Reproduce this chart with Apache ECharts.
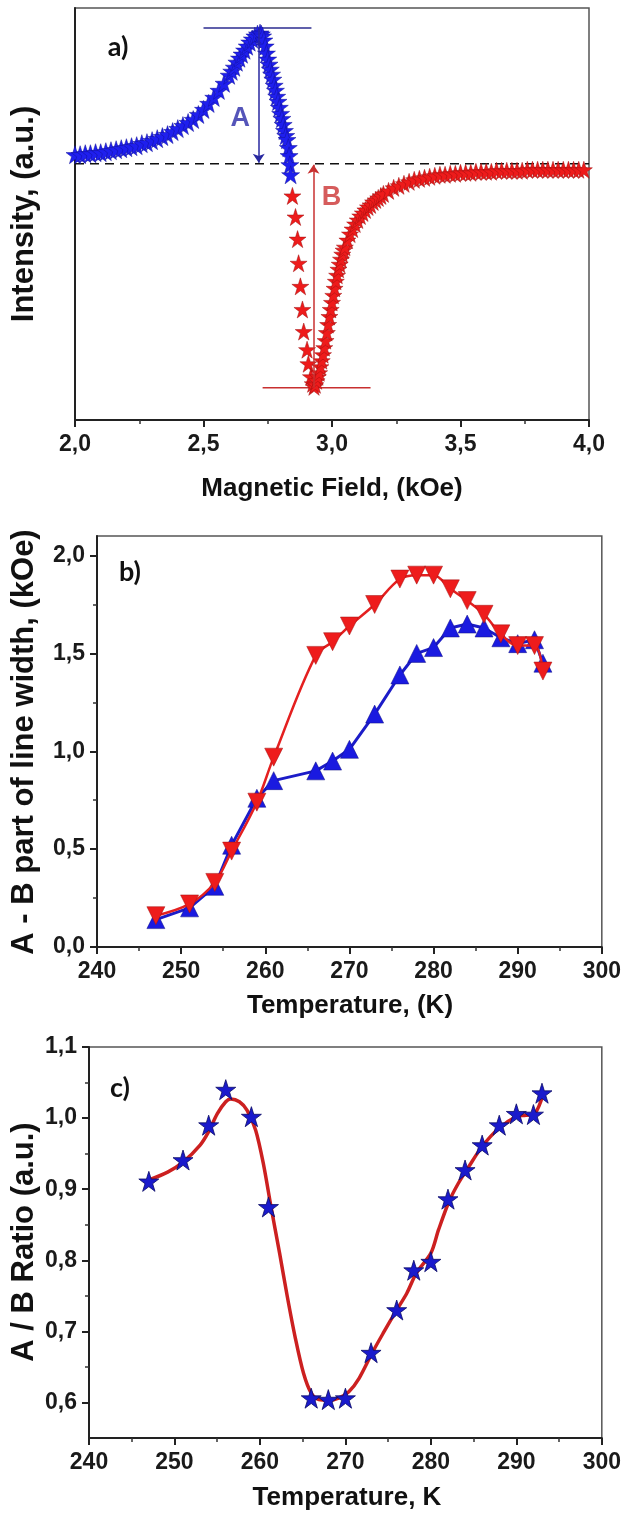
<!DOCTYPE html>
<html>
<head>
<meta charset="utf-8">
<script src="https://cdn.jsdelivr.net/npm/echarts@6/dist/echarts.min.js"></script>
<style>
  html, body { margin: 0; padding: 0; background: #fff; }
  #main { width: 624px; height: 1521px; }
</style>
</head>
<body>
<div id="main"></div>
<script>
// a) ESR line, blue part (A side)
var aBlueField = [2.00,2.02,2.04,2.06,2.08,2.10,2.12,2.14,2.16,2.18,2.20,2.22,2.24,2.26,2.28,2.30,2.32,2.34,2.36,2.38,2.40,2.42,2.44,2.46,2.48,2.50,2.52,2.54,2.56,2.58,2.60,
  2.61,2.62,2.63,2.64,2.65,2.66,2.67,2.68,2.69,2.70,2.71,2.72,
  2.725,2.73,2.735,2.74,2.745,2.75,2.755,2.76,2.765,2.77,2.775,2.78,2.785,2.79,2.795,2.80,2.805,2.81,2.815,2.82,2.825,2.83,
  2.833,2.836,2.839];
var aBlueInt = [9,9,10,10,11,11,12,13,14,15,16,17,18,20,21,23,25,27,29,32,35,38,41,44,49,54,60,66,73,80,88,
  92,96,101,105,109,113,117,121,124,127,129,130,
  129,127,123,117,110,104,99,94,89,84,78,73,67,62,56,50,45,39,33,28,24,16,
  8,-1,-11];
// a) red part (B side)
var aRedField = [2.846,2.858,2.866,2.870,2.877,2.885,2.890,2.903,2.908,2.918,2.925,
  2.930,2.935,2.940,2.945,2.950,2.955,2.960,2.965,2.970,2.975,2.980,2.985,2.990,2.995,3.000,3.005,3.010,3.015,3.020,3.025,3.030,3.035,3.040,3.045,3.050,
  3.06,3.07,3.08,3.09,3.10,3.11,3.12,3.13,3.14,3.15,3.16,3.17,3.18,3.19,3.20,
  3.22,3.24,3.26,3.28,3.30,3.32,3.34,3.36,3.38,3.40,3.42,3.44,3.46,3.48,3.50,3.52,3.54,3.56,3.58,3.60,
  3.62,3.64,3.66,3.68,3.70,3.72,3.74,3.76,3.78,3.80,3.82,3.84,3.86,3.88,3.90,3.92,3.94,3.96,3.98];
var aRedInt = [-32,-53,-75,-99,-122,-145,-167,-185,-199,-212,-219,
  -222,-220,-216,-212,-208,-202,-196,-190,-183,-176,-168,-160,-152,-145,-138,-131,-124,-117,-111,-105,-100,-95,-90,-86,-83,
  -76,-70,-65,-60,-56,-52,-49,-46,-43,-41,-38,-36,-34,-32,-30,
  -27,-24,-22,-20,-18,-16,-15,-14,-13,-12,-11,-11,-10,-10,-9,-9,-9,-8,-8,-8,
  -8,-7,-7,-7,-7,-7,-7,-6,-6,-6,-6,-6,-6,-6,-6,-6,-6,-6,-6];
var aPeak = 135, aMin = -223;

// b) and c) temperatures
var temps = [247,251,254,256,259,261,266,268,270,273,276,278,280,282,284,286,288,290,292,293];
var bPartA = [0.14,0.20,0.31,0.52,0.76,0.85,0.90,0.95,1.01,1.19,1.39,1.50,1.53,1.63,1.65,1.63,1.58,1.55,1.57,1.45];
var bPartB = [0.16,0.22,0.33,0.49,0.74,0.97,1.49,1.56,1.64,1.75,1.88,1.90,1.90,1.83,1.77,1.70,1.60,1.54,1.54,1.41];

// c) A/B ratio and the fitted curve
var cRatio = [0.911,0.941,0.990,1.040,1.002,0.875,0.606,0.604,0.606,0.670,0.730,0.786,0.798,0.886,0.927,0.962,0.990,1.006,1.005,1.035];
var cFitT = [247,249.2,251,253,254,255,256,256.6,257.6,258.5,259.5,260.4,261.3,262.3,263.2,264.1,265.1,266,266.9,268.1,
  269.2,270.4,271.6,273.1,274.4,276,277.2,278.3,280,280.9,282.1,283.2,284.4,286,287.9,290,291.1,292.2,293.1];
var cFitRatio = [0.913,0.924,0.938,0.962,0.981,1.006,1.023,1.027,1.023,1.011,0.983,0.936,0.875,0.810,0.749,0.693,0.641,0.613,0.604,0.603,
  0.606,0.615,0.634,0.669,0.697,0.730,0.754,0.782,0.810,0.843,0.882,0.908,0.931,0.960,0.985,1.002,1.004,1.007,1.032];

var bTicks = [0, 0.5, 1, 1.5, 2];
var bMinor = [0.25, 0.75, 1.25, 1.75];
var cTicks = [0.6, 0.7, 0.8, 0.9, 1.0, 1.1];
var cMinor = [0.65, 0.75, 0.85, 0.95, 1.05];

var STAR = 'path://M50,2L61.23,36.55L97.55,36.55L68.17,57.9L79.39,92.45L50,71.1L20.61,92.45L31.83,57.9L2.45,36.55L38.77,36.55Z';
var SANS = "'Liberation Sans',Arial,sans-serif";
var CAL = "Lato,'Open Sans',sans-serif";

function zip(xs, ys) {
  var out = [];
  for (var i = 0; i < xs.length; i++) out.push([xs[i], ys[i]]);
  return out;
}
function comma(v) { return v.toFixed(1).replace('.', ','); }

var tickLabel = { fontFamily: SANS, fontWeight: 'bold', fontSize: 23, color: '#1a1a1a' };
var axisLine = { show: true, onZero: false, lineStyle: { color: '#222', width: 2 } };

function xAxisOf(grid, min, max, interval, fmt) {
  return {
    type: 'value', gridIndex: grid, min: min, max: max, interval: interval,
    axisLine: axisLine,
    axisTick: { show: true, inside: false, length: 7, lineStyle: { color: '#222', width: 2 } },
    minorTick: { show: true, splitNumber: 2, length: 4, lineStyle: { color: '#333', width: 1.5 } },
    splitLine: { show: false },
    axisLabel: Object.assign({ margin: 13, formatter: fmt }, tickLabel)
  };
}

function textEl(x, y, text, font, rot) {
  return {
    type: 'text', x: x, y: y, rotation: rot || 0,
    style: { text: text, font: font, fill: '#111', align: 'center', verticalAlign: 'middle' }
  };
}

var chart = echarts.init(document.getElementById('main'));

var option = {
  animation: false,
  backgroundColor: '#fff',
  grid: [
    { left: 75, top: 8, width: 514, height: 412, show: true, borderColor: '#555', borderWidth: 1.5 },
    { left: 97, top: 536, width: 506, height: 411, show: true, borderColor: '#555', borderWidth: 1.5 },
    { left: 89, top: 1047, width: 517, height: 391, show: true, borderColor: '#555', borderWidth: 1.5 }
  ],
  xAxis: [
    xAxisOf(0, 2, 4, 0.5, comma),
    xAxisOf(1, 240, 300, 10, function (v) { return v; }),
    xAxisOf(2, 240, 300, 10, function (v) { return v; })
  ],
  yAxis: [
    { type: 'value', gridIndex: 0, min: -255, max: 155,
      axisLine: axisLine, axisTick: { show: false }, axisLabel: { show: false }, splitLine: { show: false } },
    { type: 'value', gridIndex: 1, min: 0, max: 2.1, interval: 0.5,
      axisLine: axisLine,
      axisTick: { show: true, inside: false, length: 7, customValues: bTicks, lineStyle: { color: '#222', width: 2 } },
      axisLabel: Object.assign({ margin: 12, customValues: bTicks, formatter: comma }, tickLabel),
      splitLine: { show: false } },
    { type: 'value', gridIndex: 2, min: 0.55, max: 1.1, interval: 0.05,
      axisLine: axisLine,
      axisTick: { show: true, inside: false, length: 7, customValues: cTicks, lineStyle: { color: '#222', width: 2 } },
      axisLabel: Object.assign({ margin: 12, customValues: cTicks, formatter: comma }, tickLabel),
      splitLine: { show: false } },
    // minor ticks
    { type: 'value', gridIndex: 1, position: 'left', min: 0, max: 2.1, interval: 0.5,
      axisLine: { show: false }, axisLabel: { show: false }, splitLine: { show: false },
      axisTick: { show: true, inside: false, length: 4, customValues: bMinor, lineStyle: { color: '#333', width: 1.5 } } },
    { type: 'value', gridIndex: 2, position: 'left', min: 0.55, max: 1.1, interval: 0.05,
      axisLine: { show: false }, axisLabel: { show: false }, splitLine: { show: false },
      axisTick: { show: true, inside: false, length: 4, customValues: cMinor, lineStyle: { color: '#333', width: 1.5 } } }
  ],
  graphic: [
    textEl(24, 214, 'Intensity, (a.u.)', 'bold 31px ' + SANS, Math.PI / 2),
    textEl(332, 489, 'Magnetic Field, (kOe)', 'bold 26px ' + SANS),
    textEl(24, 742, 'A - B part of line width, (kOe)', 'bold 31px ' + SANS, Math.PI / 2),
    textEl(350, 1006, 'Temperature, (K)', 'bold 26px ' + SANS),
    textEl(24, 1242, 'A / B Ratio (a.u.)', 'bold 31px ' + SANS, Math.PI / 2),
    textEl(347, 1498, 'Temperature, K', 'bold 26px ' + SANS),
    textEl(118, 47, 'a)', 'bold 27px ' + CAL),
    textEl(130, 572, 'b)', 'bold 27px ' + CAL),
    textEl(120, 1088, 'c)', 'bold 27px ' + CAL)
  ],
  series: [
    // a) guides
    { type: 'line', xAxisIndex: 0, yAxisIndex: 0, data: [[2, 0], [4, 0]], symbol: 'none', z: 1,
      lineStyle: { color: '#111', width: 1.5, type: [9, 6] } },
    { type: 'line', xAxisIndex: 0, yAxisIndex: 0, data: [[2.5, aPeak], [2.92, aPeak]], symbol: 'none', z: 1,
      lineStyle: { color: '#2b2b8f', width: 1.5 } },
    { type: 'line', xAxisIndex: 0, yAxisIndex: 0, data: [[2.73, aMin], [3.15, aMin]], symbol: 'none', z: 1,
      lineStyle: { color: '#c83030', width: 1.5 } },
    { type: 'scatter', xAxisIndex: 0, yAxisIndex: 0, data: zip(aBlueField, aBlueInt),
      symbol: STAR, symbolSize: 18, z: 3,
      itemStyle: { color: '#1f1fee', borderColor: '#12129a', borderWidth: 0.5, opacity: 1 } },
    { type: 'scatter', xAxisIndex: 0, yAxisIndex: 0, data: zip(aRedField, aRedInt),
      symbol: STAR, symbolSize: 17, z: 3,
      itemStyle: { color: '#ee1b1b', borderColor: '#a01010', borderWidth: 0.5, opacity: 1 } },
    { type: 'lines', coordinateSystem: 'cartesian2d', xAxisIndex: 0, yAxisIndex: 0, z: 4,
      symbol: ['none', 'arrow'], symbolSize: 9,
      lineStyle: { color: '#2828a0', width: 1.5, opacity: 1, curveness: 0 },
      data: [{ coords: [[2.715, aPeak], [2.715, 1]] }] },
    { type: 'lines', coordinateSystem: 'cartesian2d', xAxisIndex: 0, yAxisIndex: 0, z: 4,
      symbol: ['none', 'arrow'], symbolSize: 9,
      lineStyle: { color: '#c83030', width: 1.5, opacity: 1, curveness: 0 },
      data: [{ coords: [[2.928, aMin], [2.928, -1]] }] },
    { type: 'scatter', xAxisIndex: 0, yAxisIndex: 0, symbolSize: 1, z: 5,
      itemStyle: { color: 'rgba(0,0,0,0)' },
      label: { show: true, position: 'inside', fontFamily: SANS, fontWeight: 'bold', fontSize: 27,
        formatter: function (p) { return p.name; } },
      data: [
        { name: 'A', value: [2.643, 45], label: { color: '#2a2aa8' } },
        { name: 'B', value: [2.998, -34], label: { color: '#cc3333' } }
      ] },

    // b) A and B parts of the line width
    { type: 'line', xAxisIndex: 1, yAxisIndex: 1, data: zip(temps, bPartA),
      symbol: 'triangle', symbolSize: 18, z: 3,
      itemStyle: { color: '#1a1ae0', borderColor: '#101080', borderWidth: 0.5 },
      lineStyle: { color: '#1c1cc8', width: 3 } },
    { type: 'line', xAxisIndex: 1, yAxisIndex: 1, data: zip(temps, bPartB),
      symbol: 'triangle', symbolRotate: 180, symbolSize: 18, smooth: 0.35, z: 4,
      itemStyle: { color: '#ee1c1c', borderColor: '#a01010', borderWidth: 0.5 },
      lineStyle: { color: '#e42020', width: 2.5 } },

    // c) ratio
    { type: 'line', xAxisIndex: 2, yAxisIndex: 2, data: zip(cFitT, cFitRatio),
      symbol: 'none', smooth: 0.3, z: 2,
      lineStyle: { color: '#cc2020', width: 3.5 } },
    { type: 'scatter', xAxisIndex: 2, yAxisIndex: 2, data: zip(temps, cRatio),
      symbol: STAR, symbolSize: 20, z: 3,
      itemStyle: { color: '#1a1acc', borderColor: '#0b0b66', borderWidth: 0.8, opacity: 1 } }
  ]
};

chart.setOption(option);
</script>
</body>
</html>
